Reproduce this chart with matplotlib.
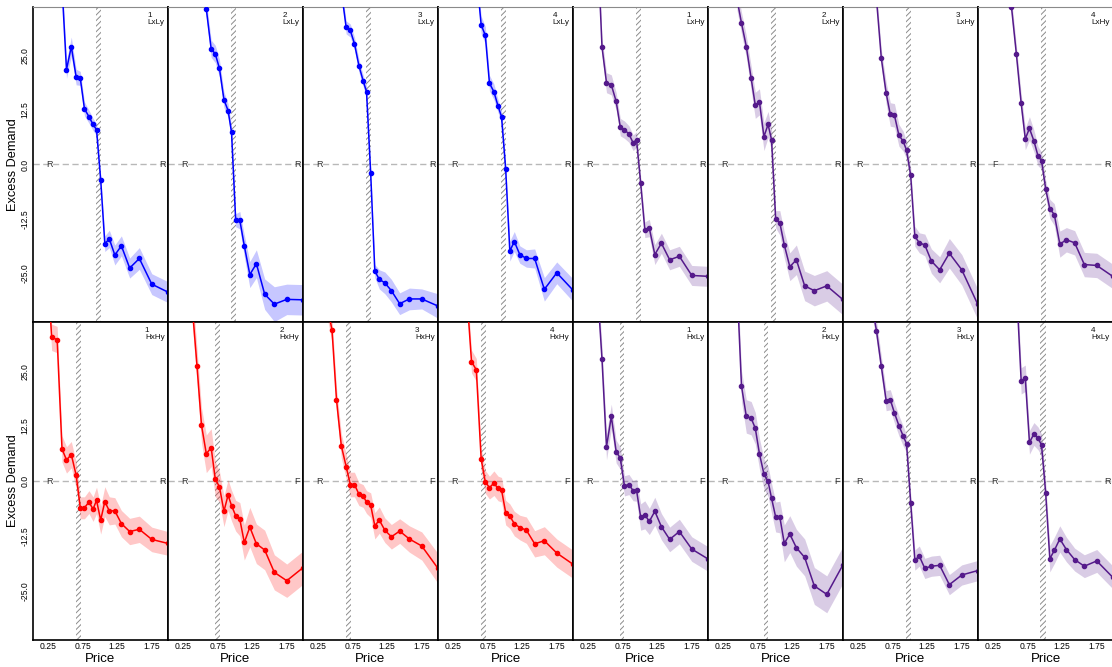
import numpy as np
import matplotlib
matplotlib.use("Agg")
import matplotlib.pyplot as plt

plt.rcParams['font.family'] = ['Liberation Sans', 'DejaVu Sans']
plt.rcParams['hatch.linewidth'] = 0.7

N = None
PRICE = [0.20, 0.30, 0.38, 0.45, 0.515, 0.585, 0.655, 0.715, 0.775, 0.84, 0.90,
         0.95, 1.01, 1.07, 1.135, 1.215, 1.31, 1.43, 1.57, 1.75, 1.98]

# ---- top row: LxLy 1-4, LxHy 1-4 ----
LXLY_1 = [N, N, N, 41.0, 21.8, 27.1, 20.1, 19.8, 12.8, 11.0, 9.2, 8.0, -3.5, -18.2, -17.1, -20.8, -18.7, -23.8, -21.6, -27.5, -29.3]
LXLY_2 = [N, N, N, N, 42.0, 35.7, 26.6, 25.4, 22.1, 14.9, 12.4, 7.4, -12.8, -12.8, -18.7, -25.3, -22.8, -29.8, -32.1, -31.0, -31.1]
LXLY_3 = [N, N, N, N, N, 40.0, 31.5, 30.8, 27.8, 22.7, 19.3, 16.7, -2.0, -24.5, -26.4, -27.2, -29.0, -32.0, -30.9, -30.9, -32.5]
LXLY_4 = [N, N, N, N, N, 44.0, 32.1, 29.7, 18.7, 16.7, 13.4, 11.0, -1.1, -19.9, -17.7, -20.7, -21.6, -21.6, -28.7, -24.9, -28.8]
LXHY_1 = [N, N, 53.0, 27.0, 18.8, 18.3, 14.5, 8.6, 8.0, 7.0, 5.0, 5.7, -4.3, -15.0, -14.6, -20.7, -18.1, -21.9, -21.1, -25.5, -25.7]
LXHY_2 = [N, N, N, 38.0, 32.5, 27.1, 19.8, 13.6, 14.4, 6.4, 9.2, 5.7, -12.6, -13.4, -18.5, -23.5, -21.9, -27.9, -29.0, -27.9, -31.0]
LXHY_3 = [N, N, N, N, 38.0, 24.4, 16.4, 11.5, 11.3, 6.7, 5.4, 3.3, -2.5, -16.5, -18.0, -18.5, -22.2, -24.2, -20.4, -24.2, -32.1]
LXHY_4 = [N, N, N, 48.0, 36.2, 25.5, 14.1, 5.9, 8.3, 5.4, 1.9, 0.9, -5.6, -10.2, -11.5, -18.3, -17.3, -18.0, -23.0, -23.2, -25.7]

# ---- bottom row: HxHy 1-4, HxLy 1-4 ----
HXHY_1 = [60.0, 32.7, 32.2, 7.3, 4.8, 6.0, 1.3, -6.1, -6.1, -4.8, -6.4, -4.4, -8.9, -4.7, -6.8, -6.8, -9.7, -11.5, -11.0, -13.3, -14.2]
HXHY_2 = [N, N, 40.0, 26.2, 12.7, 6.2, 7.6, 0.4, -1.3, -6.9, -3.2, -5.6, -7.9, -8.7, -14.0, -10.5, -14.3, -15.7, -20.8, -22.7, -19.8]
HXHY_3 = [N, N, 40.0, 34.4, 18.5, 8.0, 3.3, -0.8, -0.8, -3.0, -3.4, -4.8, -5.5, -10.2, -8.9, -11.2, -12.7, -11.4, -13.2, -14.8, -19.8]
HXHY_4 = [N, N, N, 42.0, 27.2, 25.3, 5.0, -0.2, -1.5, -0.5, -1.7, -2.0, -7.2, -8.0, -9.7, -10.6, -11.2, -14.3, -13.6, -16.4, -18.9]
HXLY_1 = [N, N, 45.0, 27.7, 7.8, 14.7, 6.7, 5.2, -1.1, -0.8, -2.2, -2.1, -8.2, -7.7, -9.2, -6.9, -10.4, -13.3, -11.5, -15.5, -17.7]
HXLY_2 = [N, N, N, 45.0, 21.6, 14.7, 14.3, 12.0, 6.2, 1.6, -0.1, -3.9, -8.2, -8.2, -14.2, -12.1, -15.2, -17.4, -23.9, -25.8, -19.2]
HXLY_3 = [N, N, N, 40.0, 34.2, 26.1, 18.3, 18.5, 15.5, 12.6, 10.3, 8.5, -4.9, -18.0, -17.1, -19.9, -19.4, -19.2, -23.6, -21.4, -20.4]
HXLY_4 = [N, N, N, N, N, 45.0, 22.8, 23.4, 8.8, 10.7, 9.7, 8.2, -2.7, -17.7, -15.8, -13.2, -15.6, -17.9, -19.4, -18.2, -21.9]

# ---- ribbon half-widths ----
E_LXLY_1 = [N, N, N, 2.5, 2.0, 2.2, 1.8, 1.6, 1.6, 1.5, 1.4, 1.4, 1.2, 1.8, 2.0, 2.3, 2.3, 2.3, 2.5, 2.4, 2.4]
E_LXLY_2 = [N, N, N, N, 2.0, 2.0, 2.0, 2.0, 2.0, 1.8, 1.6, 1.5, 1.5, 2.0, 2.5, 3.0, 3.2, 3.5, 4.0, 3.5, 3.5]
E_LXLY_3 = [N, N, N, N, N, 1.5, 1.5, 1.5, 1.5, 1.5, 1.3, 1.3, 1.2, 1.5, 2.2, 2.5, 2.6, 2.5, 2.5, 2.3, 2.8]
E_LXLY_4 = [N, N, N, N, N, 2.0, 2.0, 2.0, 1.8, 1.8, 1.5, 1.5, 1.3, 2.3, 2.3, 2.0, 2.0, 2.2, 2.7, 2.5, 2.6]
E_LXHY_1 = [N, N, 2.0, 2.0, 2.3, 2.3, 2.0, 2.0, 2.0, 1.9, 1.8, 1.8, 1.5, 1.8, 2.0, 2.3, 2.3, 2.3, 2.3, 2.3, 2.3]
E_LXHY_2 = [N, N, N, 2.5, 2.5, 2.5, 2.8, 3.0, 3.0, 3.2, 3.0, 2.5, 2.0, 2.8, 3.0, 3.2, 3.4, 3.4, 3.5, 3.5, 3.5]
E_LXHY_3 = [N, N, N, N, 2.0, 2.0, 2.5, 2.7, 2.7, 2.5, 2.3, 2.0, 1.8, 2.3, 2.3, 2.5, 2.8, 3.0, 3.4, 3.5, 3.5]
E_LXHY_4 = [N, N, N, 2.0, 2.0, 2.0, 2.2, 2.5, 2.7, 2.5, 2.2, 2.0, 2.0, 2.2, 2.5, 3.0, 2.8, 2.8, 2.8, 2.8, 2.8]
E_HXHY_1 = [3.0, 3.0, 3.0, 3.0, 3.0, 3.0, 3.0, 2.5, 2.5, 2.6, 2.8, 3.0, 3.2, 3.4, 3.2, 3.0, 3.0, 3.0, 3.0, 2.8, 2.7]
E_HXHY_2 = [N, N, 4.0, 4.0, 4.0, 4.3, 4.3, 4.0, 3.5, 3.5, 3.5, 3.5, 3.5, 3.8, 4.0, 4.5, 4.5, 4.5, 4.0, 3.8, 3.8]
E_HXHY_3 = [N, N, 2.8, 2.8, 2.8, 2.8, 2.8, 2.8, 2.8, 2.6, 2.6, 2.6, 2.8, 3.0, 3.0, 2.8, 2.8, 2.8, 3.0, 3.2, 3.4]
E_HXHY_4 = [N, N, N, 2.6, 2.6, 2.6, 2.6, 2.6, 2.6, 2.8, 2.8, 2.8, 2.8, 2.8, 2.8, 2.8, 3.0, 3.0, 3.2, 3.2, 3.2]
E_HXLY_1 = [N, N, 3.0, 3.0, 3.0, 2.8, 2.6, 2.5, 2.3, 2.3, 2.3, 2.5, 3.0, 3.2, 3.0, 3.2, 3.0, 2.8, 2.8, 2.8, 2.8]
E_HXLY_2 = [N, N, N, 3.5, 3.5, 3.8, 3.8, 3.6, 3.5, 3.4, 3.4, 3.4, 3.4, 3.6, 4.2, 4.2, 4.2, 4.2, 4.2, 4.2, 4.2]
E_HXLY_3 = [N, N, N, 2.3, 2.3, 2.3, 2.3, 2.3, 2.3, 2.3, 2.3, 2.0, 2.0, 2.3, 2.3, 2.3, 2.3, 2.3, 2.3, 2.3, 2.3]
E_HXLY_4 = [N, N, N, N, N, 3.0, 3.0, 3.0, 2.7, 2.6, 2.6, 2.5, 2.5, 3.0, 3.0, 3.0, 2.8, 2.6, 2.6, 2.6, 2.6]

TOP_SERIES = [LXLY_1, LXLY_2, LXLY_3, LXLY_4, LXHY_1, LXHY_2, LXHY_3, LXHY_4]
BOT_SERIES = [HXHY_1, HXHY_2, HXHY_3, HXHY_4, HXLY_1, HXLY_2, HXLY_3, HXLY_4]
TOP_ERR = [E_LXLY_1, E_LXLY_2, E_LXLY_3, E_LXLY_4, E_LXHY_1, E_LXHY_2, E_LXHY_3, E_LXHY_4]
BOT_ERR = [E_HXHY_1, E_HXHY_2, E_HXHY_3, E_HXHY_4, E_HXLY_1, E_HXLY_2, E_HXLY_3, E_HXLY_4]

TOP_NUM = ["1", "2", "3", "4", "1", "2", "3", "4"]
BOT_NUM = ["1", "2", "3", "4", "1", "2", "3", "4"]
TOP_TREAT = ["LxLy"] * 4 + ["LxHy"] * 4
BOT_TREAT = ["HxHy"] * 4 + ["HxLy"] * 4

TOP_BAND = [(0.94, 1.01)] * 8
BOT_BAND = [(0.655, 0.725), (0.715, 0.78), (0.65, 0.72), (0.65, 0.72),
            (0.705, 0.775), (0.835, 0.90), (0.945, 1.015), (0.935, 1.01)]

TOP_LEFT_TAG = ["R", "R", "R", "R", "R", "R", "R", "F"]
TOP_RIGHT_TAG = ["R", "R", "R", "R", "R", "R", "R", "R"]
BOT_LEFT_TAG = ["R", "R", "R", "R", "R", "R", "R", "R"]
BOT_RIGHT_TAG = ["R", "F", "F", "F", "F", "F", "R", "R"]

BLUE = "#0000FF"
RED = "#FF0000"
PURPLE = "#551A8B"
TOP_COLORS = [BLUE] * 4 + [PURPLE] * 4
BOT_COLORS = [RED] * 4 + [PURPLE] * 4

YTICKS = [-25.0, -12.5, 0.0, 12.5, 25.0]
XTICKS = [0.25, 0.75, 1.25, 1.75]

W, H = 1112, 667
fig = plt.figure(figsize=(W / 100, H / 100), dpi=100)


def draw(ax, vals, errs, color, band, num, treat, ltag, rtag, row, col):
    x = np.array(PRICE, dtype=float)
    y = np.array([np.nan if v is None else v for v in vals], dtype=float)
    e = np.array([np.nan if v is None else v for v in errs], dtype=float)
    m = ~np.isnan(y)
    ax.axvspan(band[0], band[1], facecolor='none', edgecolor='#8c8c8c',
               hatch='//////', lw=0, zorder=1)
    ax.axhline(0, color='#b8b8b8', ls=(0, (4.5, 2.5)), lw=1.0, zorder=1.5)
    ax.fill_between(x[m], y[m] - e[m], y[m] + e[m], color=color, alpha=0.22,
                    lw=0, zorder=2)
    ax.plot(x[m], y[m], '-o', color=color, lw=1.1, ms=3.0, zorder=3)
    ax.text(0.27, 0, ltag, ha='center', va='center', fontsize=6.5,
            color='#333333', zorder=4)
    ax.text(1.90, 0, rtag, ha='center', va='center', fontsize=6.5,
            color='#333333', zorder=4)
    ax.text(0.975, 0.985, num + "\n" + treat, transform=ax.transAxes,
            ha='right', va='top', multialignment='left', fontsize=5.9,
            color='#111111', linespacing=1.05)
    ax.set_xlim(0.03, 1.985)
    ax.set_ylim(-36.2, 36.2)
    ax.tick_params(axis='y', length=0, pad=2.5)
    ax.tick_params(axis='x', length=0, pad=1.2)
    ax.set_yticks(YTICKS)
    ax.set_xticks(XTICKS)
    if col == 0:
        ax.set_yticklabels(["%.1f" % t for t in YTICKS], rotation=90,
                           va='center', fontsize=6.2)
        ax.set_ylabel("Excess Demand", fontsize=9.2)
        ax.yaxis.set_label_coords(-0.10, 0.5)
    else:
        ax.set_yticklabels([])
    if row == 1:
        ax.set_xticklabels(["%.2f" % t for t in XTICKS], fontsize=6.2)
        ax.set_xlabel("Price", fontsize=9.5)
        ax.xaxis.set_label_coords(0.5, -0.04)
    else:
        ax.set_xticklabels([])
    for s in ['left', 'bottom', 'right']:
        ax.spines[s].set_color('black')
        ax.spines[s].set_linewidth(1.2)
    if row == 0:
        ax.spines['top'].set_color('#8a8a8a')
        ax.spines['top'].set_linewidth(0.8)
    else:
        ax.spines['top'].set_color('black')
        ax.spines['top'].set_linewidth(1.2)


for row in range(2):
    for col in range(8):
        left = (33 + 135 * col) / W
        if row == 0:
            bottom = (H - 322) / H
            height = (322 - 7) / H
            ax = fig.add_axes([left, bottom, 135 / W, height])
            draw(ax, TOP_SERIES[col], TOP_ERR[col], TOP_COLORS[col], TOP_BAND[col],
                 TOP_NUM[col], TOP_TREAT[col], TOP_LEFT_TAG[col], TOP_RIGHT_TAG[col],
                 row, col)
        else:
            bottom = (H - 640) / H
            height = (640 - 322) / H
            ax = fig.add_axes([left, bottom, 135 / W, height])
            draw(ax, BOT_SERIES[col], BOT_ERR[col], BOT_COLORS[col], BOT_BAND[col],
                 BOT_NUM[col], BOT_TREAT[col], BOT_LEFT_TAG[col], BOT_RIGHT_TAG[col],
                 row, col)

fig.savefig("out.png", dpi=100)
